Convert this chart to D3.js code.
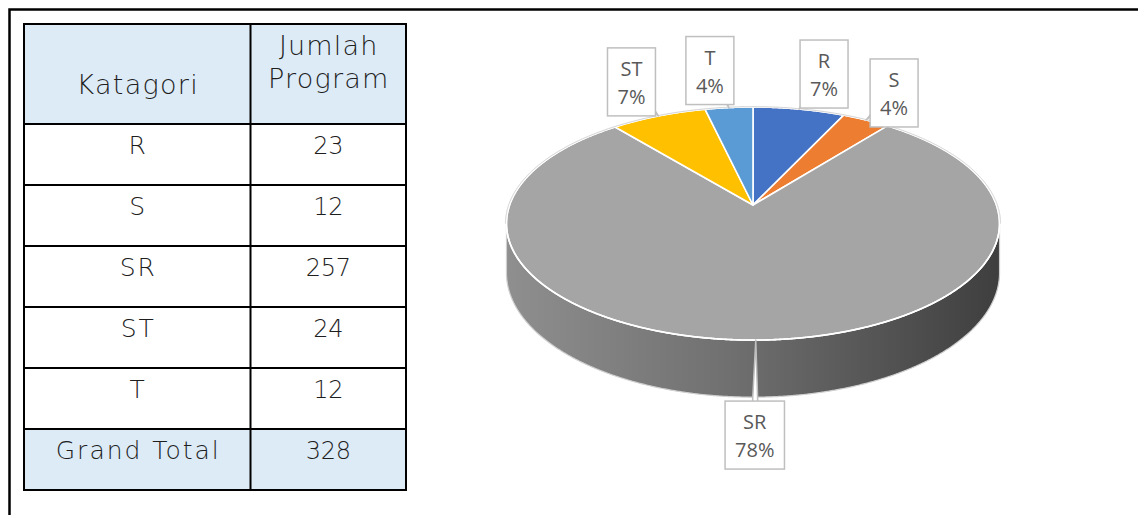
<!DOCTYPE html>
<html><head><meta charset="utf-8">
<script src="https://cdn.jsdelivr.net/npm/d3@7"></script>
<style>body{margin:0;background:#fff;overflow:hidden}</style>
</head><body>
<svg id="c" width="1138" height="515"></svg>
<script>
// ---- data ----
const categories = ["R", "S", "SR", "ST", "T"];
const values = [23, 12, 257, 24, 12];
const totalLabel = "Grand Total";
const headerCol1 = ["Katagori"];
const headerCol2 = ["Jumlah", "Program"];
const colors = ["#4472C4", "#ED7D31", "#A5A5A5", "#FFC000", "#5B9BD5"];
// ---- layout (label nudges relative to slice rim anchor) ----
const labelNudge = [[25, -35], [28, -27], [-1, 95], [-27, -34], [-19, -37]];

const svg = d3.select("#c");
const total = d3.sum(values);

// frame
svg.append("path").attr("d", "M9.5,515 V9.5 H1138")
  .attr("fill", "none").attr("stroke", "#000").attr("stroke-width", 2.5);

// ---- table ----
const tx = [24, 250.5, 406];
const headTop = 24, headBot = 124, rowH = 61;
const rows = categories.map((c, i) => ({k: c, v: values[i], fill: "#fff"}));
rows.push({k: totalLabel, v: total, fill: "#DDEBF7"});
const yRow = d3.scaleLinear().domain([0, 1]).range([headBot, headBot + rowH]);
const tfont = "'DejaVu Sans', sans-serif";
const tcol = "#1e1e1e";
const tg = svg.append("g");
tg.append("rect").attr("x", tx[0]).attr("y", headTop).attr("width", tx[2] - tx[0])
  .attr("height", headBot - headTop).attr("fill", "#DDEBF7");
const rg = tg.selectAll("g.row").data(rows).join("g").attr("class", "row");
rg.append("rect").attr("x", tx[0]).attr("y", (d, i) => yRow(i)).attr("width", tx[2] - tx[0])
  .attr("height", rowH).attr("fill", d => d.fill);
rg.append("text").attr("x", (tx[0] + tx[1]) / 2 + 1).attr("y", (d, i) => yRow(i) + 30)
  .attr("text-anchor", "middle").attr("font-family", tfont).attr("font-weight", 200)
  .attr("font-size", 25).attr("fill", tcol).attr("letter-spacing", 2).text(d => d.k);
rg.append("text").attr("x", (tx[1] + tx[2]) / 2).attr("y", (d, i) => yRow(i) + 30)
  .attr("text-anchor", "middle").attr("font-family", tfont).attr("font-weight", 200)
  .attr("font-size", 24).attr("fill", tcol).attr("letter-spacing", -0.3).text(d => d.v);
tg.append("text").attr("x", (tx[0] + tx[1]) / 2 + 0.5).attr("y", 94).attr("text-anchor", "middle")
  .attr("font-family", tfont).attr("font-weight", 200).attr("font-size", 27).attr("fill", tcol)
  .attr("letter-spacing", 1.3).text(headerCol1[0]);
headerCol2.forEach((t, i) => tg.append("text").attr("x", (tx[1] + tx[2]) / 2 + 0.5).attr("y", 55 + i * 33)
  .attr("text-anchor", "middle").attr("font-family", tfont).attr("font-weight", 200)
  .attr("font-size", 27).attr("fill", tcol).attr("letter-spacing", 1.2).text(t));
// grid lines
const lines = [];
for (let i = 0; i <= rows.length; i++) lines.push([tx[0], yRow(i), tx[2], yRow(i)]);
lines.push([tx[0], headTop, tx[2], headTop]);
tx.forEach(x => lines.push([x, headTop, x, yRow(rows.length)]));
tg.selectAll("line").data(lines).join("line")
  .attr("x1", d => d[0]).attr("y1", d => d[1]).attr("x2", d => d[2]).attr("y2", d => d[3])
  .attr("stroke", "#000").attr("stroke-width", 2).attr("stroke-linecap", "square");

// ---- 3D pie ----
const cx = 753, cy = 205, Rx = 243.4, Ry = 113.6, persp = 0.159, depth = 48;
function proj(theta, r) {
  const u = r * Math.sin(theta), v = -r * Math.cos(theta);
  const k = 1 / (1 - persp * v);
  return [cx + Rx * u * k, cy + Ry * v * k];
}
function depthAt(theta) {
  const v = -Math.cos(theta);
  return depth / (1 - persp * v);
}
const arcs = d3.pie().sort(null).value(d => d)(values);
const line = d3.line();
const step = Math.PI / 720;
function arcPts(a0, a1, r, dy) {
  const pts = [];
  const n = Math.max(2, Math.ceil((a1 - a0) / step));
  for (let i = 0; i <= n; i++) {
    const t = a0 + (a1 - a0) * i / n;
    const p = proj(t, r);
    pts.push([p[0], p[1] + (dy ? depthAt(t) : 0)]);
  }
  return pts;
}
const defs = svg.append("defs");
const sideGrad = defs.append("linearGradient").attr("id", "side")
  .attr("gradientUnits", "userSpaceOnUse").attr("x1", cx - Rx * 1.02).attr("x2", cx + Rx * 1.02)
  .attr("y1", 0).attr("y2", 0);
[[0, "#8f8f8f"], [0.45, "#707070"], [1, "#3e3e3e"]].forEach(s =>
  sideGrad.append("stop").attr("offset", s[0]).attr("stop-color", s[1]));

const th1 = Math.acos(-persp), th2 = 2 * Math.PI - th1;
const sideTop = arcPts(th1, th2, 1, false);
const sideBot = arcPts(th1, th2, 1, true).reverse();
const pg = svg.append("g");
pg.append("path").attr("d", line(sideTop.concat(sideBot)) + "Z")
  .attr("fill", "url(#side)").attr("stroke", "#cfcfcf").attr("stroke-width", 1.2);
// top face slices
pg.selectAll("path.slice").data(arcs).join("path").attr("class", "slice")
  .attr("d", d => line([[cx, cy]].concat(arcPts(d.startAngle, d.endAngle, 1, false))) + "Z")
  .attr("fill", (d, i) => colors[i]).attr("stroke", "#fff").attr("stroke-width", 1.6)
  .attr("stroke-linejoin", "round");
// white rim on top face
pg.append("path").attr("d", line(arcPts(0, 2 * Math.PI, 1, false)) + "Z")
  .attr("fill", "none").attr("stroke", "#fff").attr("stroke-width", 1.6);
pg.append("path").attr("d", line(arcPts(th2 - 2 * Math.PI, th1, 1.004, false)))
  .attr("fill", "none").attr("stroke", "#cfcfcf").attr("stroke-width", 1);

// ---- data labels (callouts) ----
const lfont = "'Open Sans', 'Liberation Sans', sans-serif";
const pct = d3.format(".0%");
const lg = svg.append("g");
arcs.forEach((d, i) => {
  const mid = (d.startAngle + d.endAngle) / 2;
  const anchor = proj(mid, 1);
  const c = [anchor[0] + labelNudge[i][0], anchor[1] + labelNudge[i][1]];
  const g = lg.append("g");
  const t1 = g.append("text").attr("font-family", lfont).attr("font-size", 20).attr("fill", "#595959")
    .attr("text-anchor", "middle").attr("x", c[0]).attr("y", c[1] - 6).text(categories[i]);
  const t2 = g.append("text").attr("font-family", lfont).attr("font-size", 20).attr("fill", "#595959")
    .attr("text-anchor", "middle").attr("x", c[0]).attr("y", c[1] + 22).text(pct(values[i] / total));
  const w = Math.max(46, Math.max(t1.node().getComputedTextLength(), t2.node().getComputedTextLength()) + 20);
  const h = 68;
  // pointer wedge
  const dx = anchor[0] - c[0], dy = anchor[1] - c[1], len = Math.hypot(dx, dy);
  const nx = -dy / len * 4, ny = dx / len * 4;
  g.insert("path", "text").attr("d", line([[c[0] + nx, c[1] + ny], anchor, [c[0] - nx, c[1] - ny]]) + "Z")
    .attr("fill", "#fff").attr("stroke", "#bfbfbf").attr("stroke-width", 1.5).attr("stroke-linejoin", "round");
  g.insert("rect", "text").attr("x", c[0] - w / 2).attr("y", c[1] - h / 2).attr("width", w).attr("height", h)
    .attr("fill", "#fff").attr("stroke", "#bfbfbf").attr("stroke-width", 1.5);
});
</script>
</body></html>
